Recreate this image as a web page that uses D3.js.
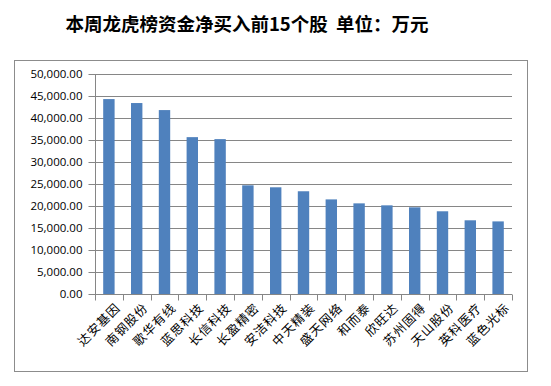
<!DOCTYPE html>
<html>
<head>
<meta charset="utf-8">
<script src="https://cdn.jsdelivr.net/npm/d3@7"></script>
<style>
	body { margin: 0; background: #fff; }
	svg { display: block; }
</style>
</head>
<body>
<div id="chart"></div>
<script>

const title = "本周龙虎榜资金净买入前15个股  单位：万元";

const stocks = [ "达安基因", "南钢股份", "歌华有线", "蓝思科技", "长信科技",
	"长盈精密", "安洁科技", "中天精装", "盛天网络", "和而泰",
	"欣旺达", "苏州固得", "天山股份", "英科医疗", "蓝色光标" ];

const netBuy = [ 44300, 43400, 41800, 35650, 35200,
	24700, 24250, 23350, 21500, 20600,
	20150, 19700, 18800, 16750, 16500 ];

const yTicks = [ 0, 5000, 10000, 15000, 20000, 25000, 30000, 35000, 40000, 45000, 50000 ];

///////////////////////////////////////////////////////////////////////

const width = 551, height = 386;
const plot = { left: 95, right: 512, top: 74, bottom: 294 };

let svg = d3.select( "#chart" )
	.append( "svg" )
		.attr( "width", width )
		.attr( "height", height );

// chart frame
svg.append( "rect" )
	.attr( "x", 14.5 ).attr( "y", 60.5 )
	.attr( "width", 513 ).attr( "height", 311 )
	.attr( "fill", "none" )
	.attr( "stroke", "#8c8c8c" )
	.attr( "stroke-width", 1 );

svg.append( "text" )
	.attr( "x", 247 ).attr( "y", 31 )
	.attr( "text-anchor", "middle" )
	.attr( "font-family", "'Noto Sans CJK SC', sans-serif" )
	.attr( "font-weight", "bold" )
	.attr( "font-size", 18.5 )
	.attr( "fill", "#000" )
	.style( "white-space", "pre" )
	.text( title );

let x = d3.scaleBand()
	.domain( stocks )
	.range( [ plot.left, plot.right ] )
	.paddingInner( 0.59 )
	.paddingOuter( 0.295 );

let y = d3.scaleLinear()
	.domain( [ 0, 50000 ] )
	.range( [ plot.bottom, plot.top ] );

// gridlines
svg.append( "g" )
	.selectAll( "line" )
	.data( yTicks.slice( 1 ) )
	.join( "line" )
		.attr( "x1", plot.left ).attr( "x2", plot.right )
		.attr( "y1", d => Math.round( y( d ) ) + 0.5 )
		.attr( "y2", d => Math.round( y( d ) ) + 0.5 )
		.attr( "stroke", "#868686" )
		.attr( "stroke-width", 1 );

// bars
svg.append( "g" )
	.selectAll( "rect" )
	.data( netBuy )
	.join( "rect" )
		.attr( "x", ( d, i ) => x( stocks[ i ] ) )
		.attr( "y", d => y( d ) )
		.attr( "width", x.bandwidth() )
		.attr( "height", d => y( 0 ) - y( d ) )
		.attr( "fill", "#4f81bd" );

// y axis
let yAxis = svg.append( "g" )
	.attr( "transform", `translate(${ plot.left + 0.5 },0)` )
	.call( d3.axisLeft( y )
		.tickValues( yTicks )
		.tickSize( 7 )
		.tickPadding( 6 )
		.tickFormat( d3.format( ",.2f" ) ) );

yAxis.selectAll( ".tick" )
	.attr( "transform", d => `translate(0,${ Math.round( y( d ) ) + 0.5 })` );
yAxis.select( ".domain" ).attr( "stroke", "#868686" ).attr( "d", `M0,${ plot.top }V${ plot.bottom + 0.5 }` );
yAxis.selectAll( ".tick line" ).attr( "stroke", "#868686" );
yAxis.selectAll( ".tick text" )
	.attr( "font-family", "'Open Sans', 'DejaVu Sans', sans-serif" )
	.attr( "font-size", 11.5 )
	.attr( "fill", "#000" );

// x axis: ticks sit between categories
let xAxis = svg.append( "g" )
	.attr( "transform", `translate(0,${ plot.bottom + 0.5 })` );

xAxis.append( "line" )
	.attr( "x1", plot.left ).attr( "x2", plot.right )
	.attr( "stroke", "#868686" );

let step = x.step();
xAxis.selectAll( "line.tk" )
	.data( d3.range( stocks.length + 1 ) )
	.join( "line" )
		.attr( "class", "tk" )
		.attr( "x1", i => Math.round( plot.left + i * step ) + 0.5 )
		.attr( "x2", i => Math.round( plot.left + i * step ) + 0.5 )
		.attr( "y1", 0 ).attr( "y2", 6 )
		.attr( "stroke", "#868686" );

xAxis.selectAll( "text" )
	.data( stocks )
	.join( "text" )
		.attr( "transform", d => `translate(${ x( d ) + x.bandwidth() / 2 + 6 },8) rotate(-45)` )
		.attr( "text-anchor", "end" )
		.attr( "dy", "0.7em" )
		.attr( "font-family", "'Noto Sans CJK SC', sans-serif" )
		.attr( "font-size", 12.5 )
		.attr( "letter-spacing", 1 )
		.attr( "fill", "#000" )
		.text( d => d );

</script>
</body>
</html>
